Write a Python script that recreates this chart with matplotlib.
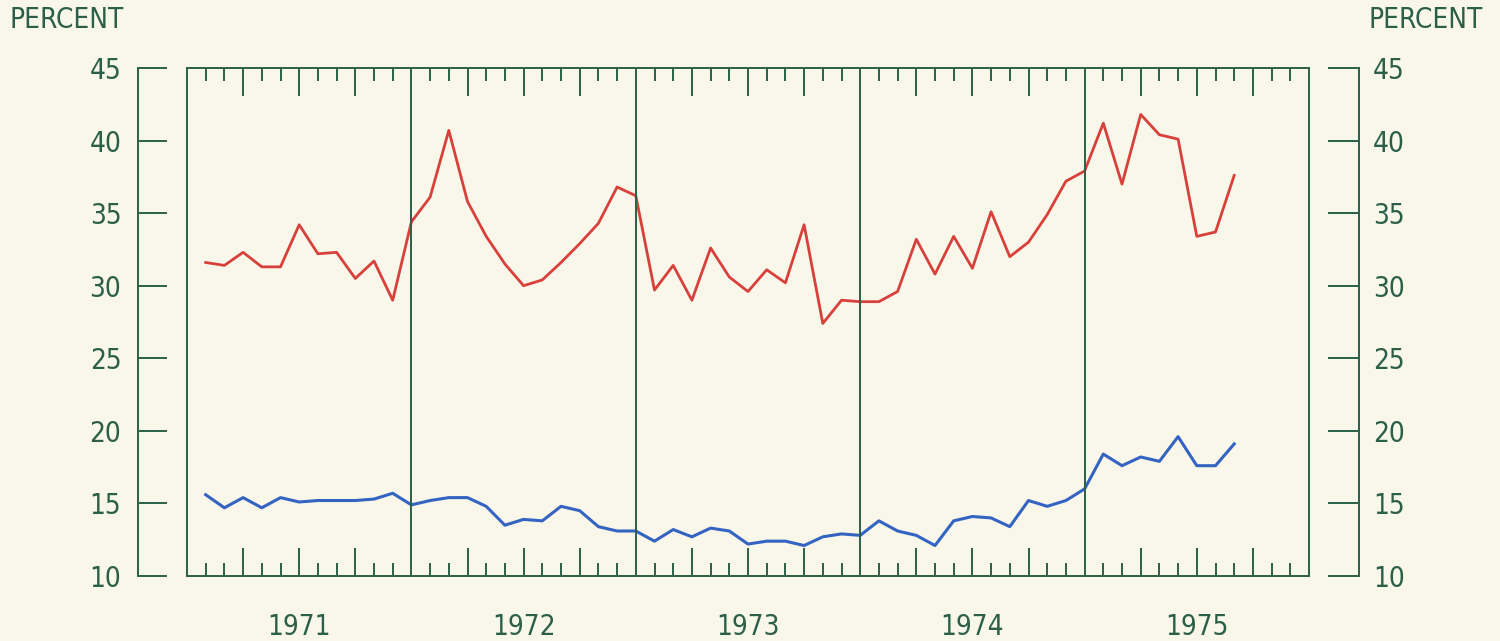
import numpy as np
import matplotlib
matplotlib.use("Agg")
import matplotlib.pyplot as plt
from matplotlib import font_manager

# monthly values, Jan 1971 .. Aug 1975 (plotted at month end)
red_series = [
    31.6, 31.4, 32.3, 31.3, 31.3, 34.2, 32.2, 32.3, 30.5, 31.7, 29.0, 34.4,
    36.1, 40.7, 35.8, 33.4, 31.5, 30.0, 30.4, 31.6, 32.9, 34.3, 36.8, 36.2,
    29.7, 31.4, 29.0, 32.6, 30.6, 29.6, 31.1, 30.2, 34.2, 27.4, 29.0, 28.9,
    28.9, 29.6, 33.2, 30.8, 33.4, 31.2, 35.1, 32.0, 33.0, 34.9, 37.2, 37.9,
    41.2, 37.0, 41.8, 40.4, 40.1, 33.4, 33.7, 37.6,
]
blue_series = [
    15.6, 14.7, 15.4, 14.7, 15.4, 15.1, 15.2, 15.2, 15.2, 15.3, 15.7, 14.9,
    15.2, 15.4, 15.4, 14.8, 13.5, 13.9, 13.8, 14.8, 14.5, 13.4, 13.1, 13.1,
    12.4, 13.2, 12.7, 13.3, 13.1, 12.2, 12.4, 12.4, 12.1, 12.7, 12.9, 12.8,
    13.8, 13.1, 12.8, 12.1, 13.8, 14.1, 14.0, 13.4, 15.2, 14.8, 15.2, 16.0,
    18.4, 17.6, 18.2, 17.9, 19.6, 17.6, 17.6, 19.1,
]
years = ["1971", "1972", "1973", "1974", "1975"]
y_ticks = [10, 15, 20, 25, 30, 35, 40, 45]

BG = "#f8f7ea"
INK = "#2c5f47"
RED = "#d8403c"
BLUE = "#3463c2"

names = {f.name for f in font_manager.fontManager.ttflist}
family = "Liberation Sans Narrow" if "Liberation Sans Narrow" in names else "DejaVu Sans"
plt.rcParams["font.family"] = family
plt.rcParams["font.stretch"] = "condensed"
FS = 20

W, H = 1500, 641
fig = plt.figure(figsize=(W / 100, H / 100), dpi=100, facecolor=BG)

box_l, box_r, box_t, box_b = 187, 1309, 68, 576
bottom = 1 - box_b / H
height = (box_b - box_t) / H

ax = fig.add_axes([box_l / W, bottom, (box_r - box_l) / W, height])
ax.set_facecolor(BG)
n_months = 12 * len(years)
ax.set_xlim(0, n_months)
ax.set_ylim(10, 45)

months = np.arange(1, len(red_series) + 1)
ax.plot(months, red_series, color=RED, lw=2.0)
ax.plot(months, blue_series, color=BLUE, lw=2.2)

for k in range(12, n_months, 12):
    ax.axvline(k, color=INK, lw=1.4)

quarters = [m for m in range(3, n_months, 3) if m % 12]
minor = [m for m in range(1, n_months) if m % 3]
ax.set_xticks(quarters)
ax.set_xticks(minor, minor=True)
ax.set_yticks([])
ax.tick_params(axis="x", which="major", direction="in", length=20.5, width=1.4,
               color=INK, top=True, bottom=True, labelbottom=False)
ax.tick_params(axis="x", which="minor", direction="in", length=9.5, width=1.4,
               color=INK, top=True, bottom=True)
for s in ax.spines.values():
    s.set_color(INK)
    s.set_linewidth(1.4)

for i, yr in enumerate(years):
    ax.text(12 * i + 6, -0.1, yr, transform=ax.get_xaxis_transform(),
            ha="center", va="center", fontsize=FS, color=INK)

# separate scale on the left
ax_l = fig.add_axes([138 / W, bottom, 29 / W, height])
ax_l.patch.set_alpha(0)
ax_l.set_ylim(10, 45)
ax_l.set_yticks(y_ticks)
ax_l.set_xticks([])
for side in ["top", "right", "bottom"]:
    ax_l.spines[side].set_visible(False)
ax_l.spines["left"].set_color(INK)
ax_l.spines["left"].set_linewidth(1.4)
ax_l.tick_params(axis="y", direction="in", length=20.7, width=1.4, color=INK,
                 pad=12, labelsize=FS, labelcolor=INK)

# separate scale on the right
ax_r = fig.add_axes([1328 / W, bottom, 31 / W, height])
ax_r.patch.set_alpha(0)
ax_r.set_ylim(10, 45)
ax_r.yaxis.tick_right()
ax_r.set_yticks(y_ticks)
ax_r.set_xticks([])
for side in ["top", "left", "bottom"]:
    ax_r.spines[side].set_visible(False)
ax_r.spines["right"].set_color(INK)
ax_r.spines["right"].set_linewidth(1.4)
ax_r.tick_params(axis="y", direction="in", length=22, width=1.4, color=INK,
                 pad=10, labelsize=FS, labelcolor=INK)

fig.text(10 / W, 1 - 20 / H, "PERCENT", ha="left", va="center", fontsize=FS, color=INK)
fig.text(1483 / W, 1 - 20 / H, "PERCENT", ha="right", va="center", fontsize=FS, color=INK)

fig.savefig("out.png", dpi=100, facecolor=BG)
